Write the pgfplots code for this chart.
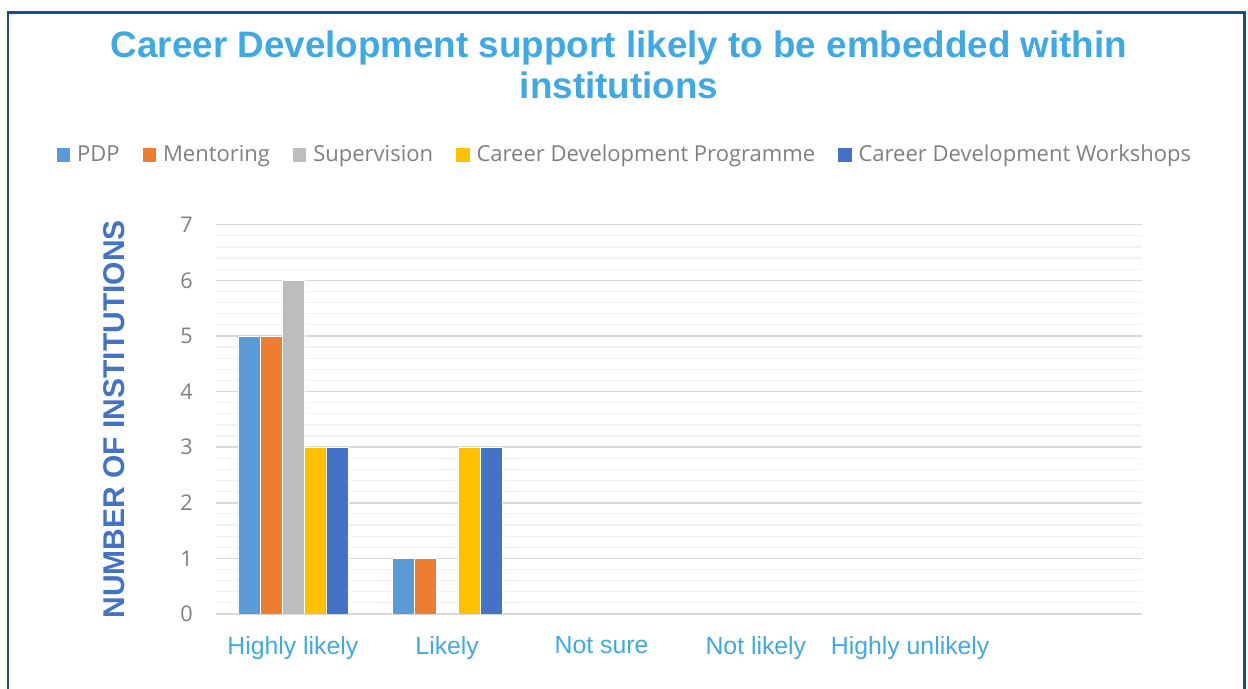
\documentclass[border=0pt]{standalone}
\usepackage{fontspec}
\setmainfont{Liberation Sans}
\newfontfamily\opensans{Open Sans}
\usepackage{pgfplots}
\pgfplotsset{compat=1.18}

\definecolor{titleblue}{HTML}{41A9E1}
\definecolor{ylabblue}{HTML}{4472C4}
\definecolor{framecol}{HTML}{1A4C93}
\definecolor{cPDP}{HTML}{5B9BD5}
\definecolor{cMent}{HTML}{ED7D31}
\definecolor{cSup}{HTML}{BDBDBD}
\definecolor{cProg}{HTML}{FFC000}
\definecolor{cWork}{HTML}{4472C4}
\definecolor{txtgray}{HTML}{7F7F7F}

\pgfplotsset{
  sq/.style={legend image code/.code={\fill[##1,draw=none] (0pt,-3.4pt) rectangle (6.7pt,3.4pt);}},
}

\begin{document}
\begin{tikzpicture}
\useasboundingbox (0,0) rectangle (624pt,344.5pt);
% outer frame
\draw[framecol, line width=1.3pt] (4pt,-2pt) -- (4pt,338.2pt) -- (622.3pt,338.2pt) -- (622.3pt,-2pt);

\node[font=\bfseries\fontsize{18.4}{20.5}\selectfont, text=titleblue, align=center, anchor=north]
  at (309.5pt,332.5pt) {Career Development support likely to be embedded within\\institutions};

\begin{axis}[
    at={(107.85pt,37.5pt)}, anchor=south west,
    scale only axis,
    width=463pt, height=194.65pt,
    ybar=0pt, bar width=11pt,
    xmin=-0.5, xmax=5.5,
    ymin=0, ymax=7,
    enlargelimits=false,
    ytick={0,...,7},
    minor y tick num=4,
    ymajorgrids, yminorgrids,
    major grid style={draw=black!15, line width=0.75pt},
    minor grid style={draw=black!5, line width=0.6pt},
    axis line style={draw=none},
    major tick length=0pt, minor tick length=0pt,
    xtick={0,1,2,3,4},
    xticklabels={Highly likely, Likely, Not sure, Not likely, Highly unlikely},
    xticklabel style={font=\fontsize{12.4}{14}\selectfont, text=titleblue, yshift=-7.5pt},
    yticklabel style={font=\opensans\fontsize{10.8}{12}\selectfont, text=txtgray, xshift=-8pt},
    /pgf/number format/assume math mode=true,
    ylabel={NUMBER OF INSTITUTIONS},
    ylabel style={font=\bfseries\fontsize{15}{17}\selectfont, text=ylabblue, yshift=21pt},
    legend style={at={(0.443,1.179)}, anchor=center, draw=none, fill=none,
      legend columns=-1, font=\opensans\fontsize{11}{13}\selectfont, text=txtgray,
      /tikz/every odd column/.append style={column sep=1.5pt},
      /tikz/every even column/.append style={column sep=9.5pt}},
    every axis plot/.append style={draw=white, line width=0.3pt},
]
\addplot[fill=cPDP, sq] coordinates {(0,5) (1,1)};
\addplot[fill=cMent, sq] coordinates {(0,5) (1,1)};
\addplot[fill=cSup, sq] coordinates {(0,6) (1,0)};
\addplot[fill=cProg, sq] coordinates {(0,3) (1,3)};
\addplot[fill=cWork, sq] coordinates {(0,3) (1,3)};
\legend{PDP, Mentoring, Supervision, Career Development Programme, Career Development Workshops}
\end{axis}
\end{tikzpicture}
\end{document}
